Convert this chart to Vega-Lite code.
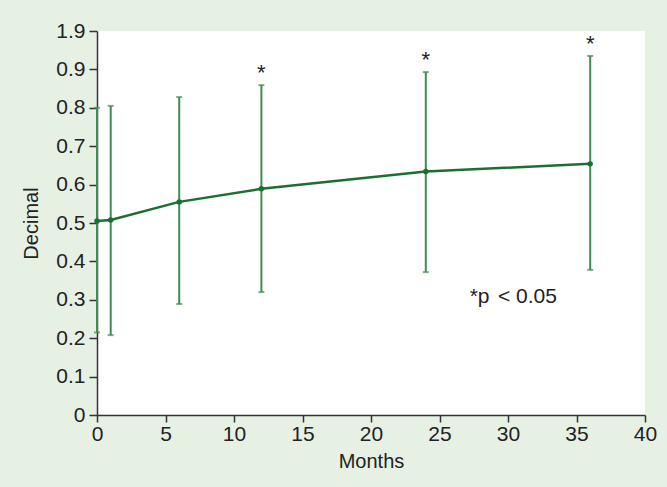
{
  "$schema": "https://vega.github.io/schema/vega-lite/v6.json",
  "width": 548,
  "height": 384,
  "autosize": {"type": "none"},
  "padding": {"left": 97, "top": 31, "right": 22, "bottom": 72},
  "background": "#e6f1e4",
  "config": {
    "view": {"fill": "white", "stroke": null},
    "font": "Liberation Sans",
    "axis": {
      "domainColor": "#333333",
      "domainWidth": 1.5,
      "tickColor": "#333333",
      "tickWidth": 1.5,
      "labelColor": "#222222",
      "titleFontSize": 20,
      "titleFontWeight": "normal",
      "titleColor": "#222222",
      "grid": false,
      "labelFont": "Liberation Sans",
      "titleFont": "Liberation Sans"
    }
  },
  "data": {
    "values": [
      {"month": 0, "mean": 0.505, "lo": 0.215, "hi": 0.80, "sig": ""},
      {"month": 1, "mean": 0.508, "lo": 0.208, "hi": 0.805, "sig": ""},
      {"month": 6, "mean": 0.555, "lo": 0.289, "hi": 0.828, "sig": ""},
      {"month": 12, "mean": 0.589, "lo": 0.32, "hi": 0.859, "sig": "*"},
      {"month": 24, "mean": 0.634, "lo": 0.372, "hi": 0.893, "sig": "*"},
      {"month": 36, "mean": 0.654, "lo": 0.378, "hi": 0.935, "sig": "*"}
    ]
  },
  "encoding": {
    "x": {
      "field": "month",
      "type": "quantitative",
      "scale": {"domain": [0, 40], "nice": false},
      "axis": {"values": [0, 5, 10, 15, 20, 25, 30, 35, 40], "title": "Months", "labelFontSize": 21, "labelFlush": false, "labelOverlap": false, "tickSize": 7, "labelPadding": 1, "titlePadding": 7}
    }
  },
  "layer": [
    {
      "mark": {"type": "rule", "color": "#3d8c52", "strokeWidth": 2},
      "encoding": {
        "y": {
          "field": "lo",
          "type": "quantitative",
          "scale": {"domain": [0, 1], "nice": false},
          "axis": {"values": [0, 0.1, 0.2, 0.3, 0.4, 0.5, 0.6, 0.7, 0.8, 0.9, 1.0], "labelExpr": "datum.value == 1 ? '1.9' : datum.value == 0 ? '0' : format(datum.value, '.1f')", "title": "Decimal", "labelFontSize": 21, "labelOverlap": false, "tickSize": 8, "labelPadding": 4, "titlePadding": 14}
        },
        "y2": {"field": "hi"}
      }
    },
    {
      "mark": {"type": "tick", "orient": "horizontal", "color": "#3d8c52", "size": 6, "thickness": 2},
      "encoding": {
        "y": {
          "field": "lo",
          "type": "quantitative",
          "axis": {"values": [0, 0.1, 0.2, 0.3, 0.4, 0.5, 0.6, 0.7, 0.8, 0.9, 1.0], "labelExpr": "datum.value == 1 ? '1.9' : datum.value == 0 ? '0' : format(datum.value, '.1f')", "title": "Decimal", "labelFontSize": 21, "labelOverlap": false, "tickSize": 8, "labelPadding": 4, "titlePadding": 14}
        }
      }
    },
    {
      "mark": {"type": "tick", "orient": "horizontal", "color": "#3d8c52", "size": 6, "thickness": 2},
      "encoding": {
        "y": {
          "field": "hi",
          "type": "quantitative",
          "axis": {"values": [0, 0.1, 0.2, 0.3, 0.4, 0.5, 0.6, 0.7, 0.8, 0.9, 1.0], "labelExpr": "datum.value == 1 ? '1.9' : datum.value == 0 ? '0' : format(datum.value, '.1f')", "title": "Decimal", "labelFontSize": 21, "labelOverlap": false, "tickSize": 8, "labelPadding": 4, "titlePadding": 14}
        }
      }
    },
    {
      "mark": {"type": "line", "color": "#1b6f30", "strokeWidth": 2.5},
      "encoding": {
        "y": {
          "field": "mean",
          "type": "quantitative",
          "axis": {"values": [0, 0.1, 0.2, 0.3, 0.4, 0.5, 0.6, 0.7, 0.8, 0.9, 1.0], "labelExpr": "datum.value == 1 ? '1.9' : datum.value == 0 ? '0' : format(datum.value, '.1f')", "title": "Decimal", "labelFontSize": 21, "labelOverlap": false, "tickSize": 8, "labelPadding": 4, "titlePadding": 14}
        }
      }
    },
    {
      "mark": {"type": "circle", "color": "#1b6f30", "opacity": 1, "size": 30},
      "encoding": {
        "y": {
          "field": "mean",
          "type": "quantitative",
          "axis": {"values": [0, 0.1, 0.2, 0.3, 0.4, 0.5, 0.6, 0.7, 0.8, 0.9, 1.0], "labelExpr": "datum.value == 1 ? '1.9' : datum.value == 0 ? '0' : format(datum.value, '.1f')", "title": "Decimal", "labelFontSize": 21, "labelOverlap": false, "tickSize": 8, "labelPadding": 4, "titlePadding": 14}
        }
      }
    },
    {
      "mark": {"type": "text", "fontSize": 22, "color": "#222222", "dy": -12, "baseline": "middle", "font": "Liberation Sans"},
      "encoding": {
        "y": {
          "field": "hi",
          "type": "quantitative",
          "axis": {"values": [0, 0.1, 0.2, 0.3, 0.4, 0.5, 0.6, 0.7, 0.8, 0.9, 1.0], "labelExpr": "datum.value == 1 ? '1.9' : datum.value == 0 ? '0' : format(datum.value, '.1f')", "title": "Decimal", "labelFontSize": 21, "labelOverlap": false, "tickSize": 8, "labelPadding": 4, "titlePadding": 14}
        },
        "text": {"field": "sig"}
      }
    },
    {
      "data": {"values": [
        {"x": 27.2, "y": 0.307, "t": "*", "style": "normal"},
        {"x": 27.8, "y": 0.307, "t": "p", "style": "italic"},
        {"x": 29.27, "y": 0.307, "t": "< 0.05", "style": "normal"}
      ]},
      "mark": {"type": "text", "fontSize": 21, "color": "#222222", "align": "left", "baseline": "middle", "font": "Liberation Sans"},
      "encoding": {
        "x": {
          "field": "x",
          "type": "quantitative",
          "axis": {"values": [0, 5, 10, 15, 20, 25, 30, 35, 40], "title": "Months", "labelFontSize": 21, "labelFlush": false, "labelOverlap": false, "tickSize": 7, "labelPadding": 1, "titlePadding": 7}
        },
        "y": {
          "field": "y",
          "type": "quantitative",
          "axis": {"values": [0, 0.1, 0.2, 0.3, 0.4, 0.5, 0.6, 0.7, 0.8, 0.9, 1.0], "labelExpr": "datum.value == 1 ? '1.9' : datum.value == 0 ? '0' : format(datum.value, '.1f')", "title": "Decimal", "labelFontSize": 21, "labelOverlap": false, "tickSize": 8, "labelPadding": 4, "titlePadding": 14}
        },
        "text": {"field": "t"},
        "fontStyle": {"field": "style", "type": "nominal", "scale": null}
      }
    }
  ]
}
